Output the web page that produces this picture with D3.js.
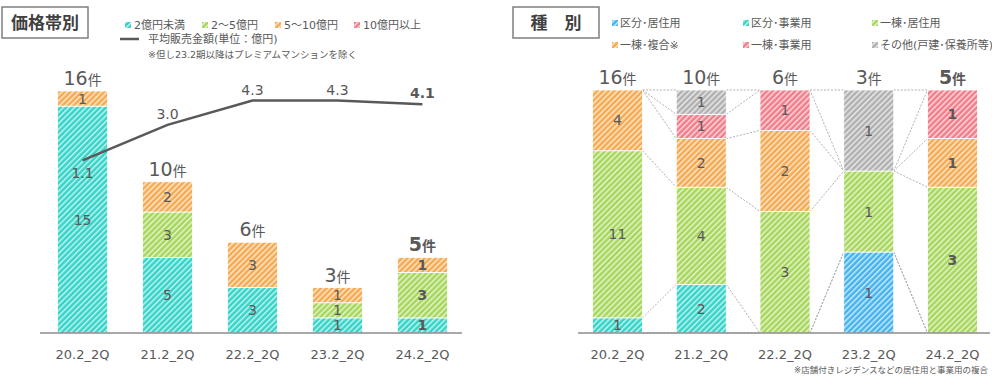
<!DOCTYPE html>
<html>
<head>
<meta charset="utf-8">
<script src="https://cdn.jsdelivr.net/npm/d3@7"></script>
<style>
  body { margin: 0; background: #fff; }
  text { font-family: "DejaVu Sans", "Noto Sans CJK JP", sans-serif; fill: #595959; }
</style>
</head>
<body>
<div id="chart"></div>
<script>
// categories (periods)
var periods = ["20.2_2Q", "21.2_2Q", "22.2_2Q", "23.2_2Q", "24.2_2Q"];

// price band chart
var priceNames = ["2億円未満", "2～5億円", "5～10億円", "10億円以上"];
var priceUnder2 = [15, 5, 3, 1, 1];
var price2to5 = [0, 3, 0, 1, 3];
var price5to10 = [1, 2, 3, 1, 1];
var priceOver10 = [0, 0, 0, 0, 0];
var avgPrice = [1.1, 3.0, 4.3, 4.3, 4.1];

// type chart
var typeNames = ["区分･居住用", "区分･事業用", "一棟･居住用", "一棟･複合※", "一棟･事業用", "その他(戸建･保養所等)"];
var kubunRes = [0, 0, 0, 1, 0];
var kubunBiz = [1, 2, 0, 0, 0];
var ittoRes = [11, 4, 3, 1, 3];
var ittoMix = [4, 2, 2, 0, 1];
var ittoBiz = [0, 1, 1, 0, 1];
var others = [0, 1, 0, 1, 0];

var W = 992, H = 376;
var svg = d3.select("#chart").append("svg").attr("width", W).attr("height", H);

var colors = {
  cyan: "#35d4c8", green: "#a6d65a", orange: "#f5aa52",
  pink: "#f27d8a", blue: "#45b3ee", gray: "#b0b0b0"
};

// hatch patterns
var defs = svg.append("defs");
Object.keys(colors).forEach(function(k) {
  var p = defs.append("pattern")
    .attr("id", "hatch-" + k)
    .attr("patternUnits", "userSpaceOnUse")
    .attr("width", 4).attr("height", 4)
    .attr("patternTransform", "rotate(45)");
  p.append("rect").attr("width", 4).attr("height", 4).attr("fill", colors[k]);
  p.append("rect").attr("x", 0).attr("width", 1.4).attr("height", 4).attr("fill", "#fff").attr("opacity", 0.75);
});

var baseY = 333;
var lastIdx = periods.length - 1;

function totalLabel(g, x, y, n, bold) {
  var t = g.append("text").attr("x", x).attr("y", y).attr("text-anchor", "middle")
    .style("font-weight", bold ? "bold" : "normal");
  t.append("tspan").style("font-size", "19px").text(n);
  t.append("tspan").style("font-size", "14px").text("件");
}

function titleBox(x, label) {
  svg.append("rect").attr("x", x).attr("y", 7).attr("width", 86).attr("height", 31)
    .attr("fill", "#fff").attr("stroke", "#7f7f7f").attr("stroke-width", 1.5);
  svg.append("text").attr("x", x + 43).attr("y", 29).attr("text-anchor", "middle")
    .style("font-size", "17px").style("font-weight", "bold").style("fill", "#404040")
    .text(label);
}

// ---------- left chart: price band ----------
var left = svg.append("g");
var x1 = d3.scaleBand().domain(periods).range([40, 465]).paddingInner(0.41).paddingOuter(0.206);
var y1 = d3.scaleLinear().domain([0, 16]).range([baseY, 91]);
var yLine = d3.scaleLinear().domain([0, 4.3]).range([181, 100.5]);

var priceSeries = [priceUnder2, price2to5, price5to10, priceOver10];
var priceColors = ["cyan", "green", "orange", "pink"];
var priceRows = periods.map(function(p, i) {
  var r = { period: p };
  priceSeries.forEach(function(s, k) { r["s" + k] = s[i]; });
  return r;
});
var priceStack = d3.stack().keys(["s0", "s1", "s2", "s3"])(priceRows);

priceStack.forEach(function(layer, k) {
  var g = left.append("g");
  g.selectAll("rect").data(layer.filter(function(d) { return d[1] > d[0]; }))
    .enter().append("rect")
    .attr("x", function(d) { return x1(d.data.period); })
    .attr("y", function(d) { return y1(d[1]); })
    .attr("width", x1.bandwidth())
    .attr("height", function(d) { return y1(d[0]) - y1(d[1]); })
    .attr("fill", "url(#hatch-" + priceColors[k] + ")")
    .attr("stroke", "#fff").attr("stroke-width", 0.8);
  g.selectAll("text").data(layer.filter(function(d) { return d[1] > d[0]; }))
    .enter().append("text")
    .attr("x", function(d) { return x1(d.data.period) + x1.bandwidth() / 2; })
    .attr("y", function(d) { return (y1(d[0]) + y1(d[1])) / 2 + 5; })
    .attr("text-anchor", "middle")
    .style("font-size", "14px")
    .style("font-weight", function(d) { return d.data.period == periods[lastIdx] ? "bold" : "normal"; })
    .text(function(d) { return d[1] - d[0]; });
});

periods.forEach(function(p, i) {
  var tot = priceSeries.reduce(function(a, s) { return a + s[i]; }, 0);
  totalLabel(left, x1(p) + x1.bandwidth() / 2, y1(tot) - 6, tot, i == lastIdx);
});

// average price line
var line = d3.line()
  .x(function(d, i) { return x1(periods[i]) + x1.bandwidth() / 2; })
  .y(function(d) { return yLine(d); });
left.append("path").datum(avgPrice).attr("d", line)
  .attr("fill", "none").attr("stroke", "#595959").attr("stroke-width", 2.5);
left.selectAll(".avg").data(avgPrice).enter().append("text")
  .attr("x", function(d, i) { return x1(periods[i]) + x1.bandwidth() / 2; })
  .attr("y", function(d, i) { return i == 0 ? yLine(d) + 18 : yLine(d) - 6; })
  .attr("text-anchor", "middle")
  .style("font-size", "14px")
  .style("font-weight", function(d, i) { return i == lastIdx ? "bold" : "normal"; })
  .text(function(d) { return d.toFixed(1); });

left.append("line").attr("x1", 40).attr("x2", 462).attr("y1", baseY).attr("y2", baseY)
  .attr("stroke", "#8c8c8c").attr("stroke-width", 1.5);
left.selectAll(".cat").data(periods).enter().append("text")
  .attr("x", function(d) { return x1(d) + x1.bandwidth() / 2; })
  .attr("y", 359).attr("text-anchor", "middle").style("font-size", "13px")
  .text(function(d) { return d; });

titleBox(2, "価格帯別");

// left legend
var legX1 = [128, 205, 278, 357];
priceNames.forEach(function(n, k) {
  svg.append("rect").attr("x", legX1[k] - 3).attr("y", 22).attr("width", 6).attr("height", 6)
    .attr("fill", "url(#hatch-" + priceColors[k] + ")");
  svg.append("text").attr("x", legX1[k] + 6).attr("y", 29).style("font-size", "11px").text(n);
});
svg.append("line").attr("x1", 120).attr("x2", 139).attr("y1", 39).attr("y2", 39)
  .attr("stroke", "#595959").attr("stroke-width", 2.5);
svg.append("text").attr("x", 148).attr("y", 43).style("font-size", "11px").text("平均販売金額(単位：億円)");
svg.append("text").attr("x", 148).attr("y", 58).style("font-size", "9.5px").text("※但し23.2期以降はプレミアムマンションを除く");

// ---------- right chart: type ----------
var right = svg.append("g");
var x2 = d3.scaleBand().domain(periods).range([575, 995]).paddingInner(0.403).paddingOuter(0.209);
var typeSeries = [kubunRes, kubunBiz, ittoRes, ittoMix, ittoBiz, others];
var typeColors = ["blue", "cyan", "green", "orange", "pink", "gray"];
var typeRows = periods.map(function(p, i) {
  var r = { period: p };
  typeSeries.forEach(function(s, k) { r["t" + k] = s[i]; });
  return r;
});
var typeStack = d3.stack().keys(["t0", "t1", "t2", "t3", "t4", "t5"])
  .offset(d3.stackOffsetExpand)(typeRows);
var y2 = d3.scaleLinear().domain([0, 1]).range([baseY, 90]);

// series lines
typeStack.forEach(function(layer) {
  for (var i = 0; i < layer.length - 1; i++) {
    right.append("line")
      .attr("x1", x2(periods[i]) + x2.bandwidth()).attr("y1", y2(layer[i][1]))
      .attr("x2", x2(periods[i + 1])).attr("y2", y2(layer[i + 1][1]))
      .attr("stroke", "#a6a6a6").attr("stroke-width", 0.9).attr("stroke-dasharray", "2,1.5");
  }
});

typeStack.forEach(function(layer, k) {
  var s = typeSeries[k];
  var g = right.append("g");
  var segs = layer.filter(function(d, i) { return s[i] > 0; });
  g.selectAll("rect").data(segs).enter().append("rect")
    .attr("x", function(d) { return x2(d.data.period); })
    .attr("y", function(d) { return y2(d[1]); })
    .attr("width", x2.bandwidth())
    .attr("height", function(d) { return y2(d[0]) - y2(d[1]); })
    .attr("fill", "url(#hatch-" + typeColors[k] + ")")
    .attr("stroke", "#fff").attr("stroke-width", 0.8);
  g.selectAll("text").data(segs).enter().append("text")
    .attr("x", function(d) { return x2(d.data.period) + x2.bandwidth() / 2; })
    .attr("y", function(d) { return (y2(d[0]) + y2(d[1])) / 2 + 5; })
    .attr("text-anchor", "middle")
    .style("font-size", "14px")
    .style("font-weight", function(d) { return d.data.period == periods[lastIdx] ? "bold" : "normal"; })
    .text(function(d) { return d.data["t" + k]; });
});

periods.forEach(function(p, i) {
  var tot = typeSeries.reduce(function(a, s) { return a + s[i]; }, 0);
  totalLabel(right, x2(p) + x2.bandwidth() / 2, 84, tot, i == lastIdx);
});

right.append("line").attr("x1", 578).attr("x2", 990).attr("y1", baseY).attr("y2", baseY)
  .attr("stroke", "#8c8c8c").attr("stroke-width", 1.5);
right.selectAll(".cat").data(periods).enter().append("text")
  .attr("x", function(d) { return x2(d) + x2.bandwidth() / 2; })
  .attr("y", 359).attr("text-anchor", "middle").style("font-size", "13px")
  .text(function(d) { return d; });
svg.append("text").attr("x", 988).attr("y", 373).attr("text-anchor", "end")
  .style("font-size", "8.5px").text("※店舗付きレジデンスなどの居住用と事業用の複合");

titleBox(513, "種　別");

// right legend
var legX2 = [615, 746, 875];
typeNames.forEach(function(n, k) {
  var lx = legX2[k % 3], ly = k < 3 ? 23 : 45;
  svg.append("rect").attr("x", lx - 3).attr("y", ly - 3).attr("width", 6).attr("height", 6)
    .attr("fill", "url(#hatch-" + typeColors[k] + ")");
  svg.append("text").attr("x", lx + 5).attr("y", ly + 4).style("font-size", "11px").text(n);
});
</script>
</body>
</html>
